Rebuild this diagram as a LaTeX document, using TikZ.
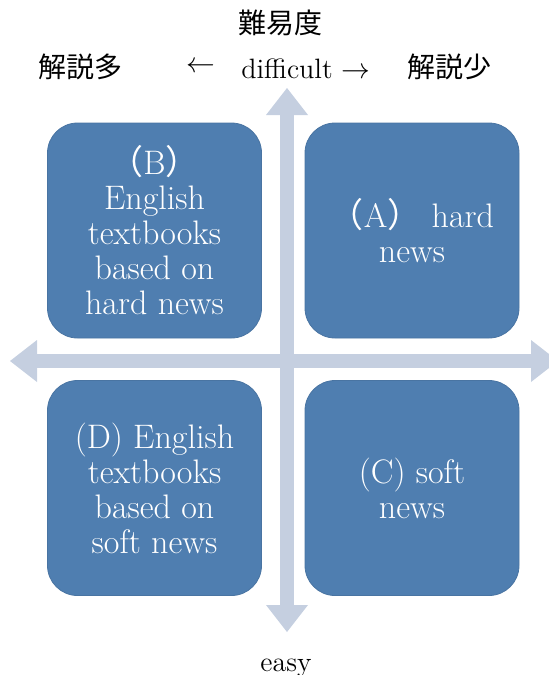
\documentclass[tikz,border=0pt]{standalone}
\usepackage{fontspec}
\newfontfamily\cjk{Noto Sans CJK JP}
\usepackage{tikz}
\usetikzlibrary{arrows.meta}

\definecolor{boxblue}{RGB}{79,126,176}
\definecolor{axisgray}{RGB}{197,207,224}

\begin{document}
\begin{tikzpicture}[x=0.5pt, y=-0.5pt,
        quad/.style={rectangle, rounded corners=15pt, fill=boxblue, draw=boxblue!92!black, line width=0.4pt, minimum width=107pt, minimum height=107.5pt, inner sep=0pt, text=white, align=center, font=\fontsize{17}{17.5}\selectfont},
        axis/.style={draw=axisgray, line width=7pt, {Triangle[width=21pt, length=13.5pt, line width=0pt]}-{Triangle[width=21pt, length=13.5pt, line width=0pt]}},
        axislabel/.style={inner sep=0pt, font=\fontsize{14}{16}\selectfont}
      ]
        \useasboundingbox (0,0) rectangle (548,675);

        \coordinate (up)    at (287, 88);
        \coordinate (down)  at (287, 632);
        \coordinate (left)  at (10, 361);
        \coordinate (right) at (558, 361);

        \draw[axis]  (down) -- (up);
        \draw[axis]  (left) -- (right);

        \node[quad]  (B)  at (154.5, 230.5)  {\cjk（\normalfont B\cjk）\\English\\textbooks\\based on\\hard news};
        \node[quad]  (A)  at (412, 230.5)    {\cjk（\normalfont A\cjk）\normalfont\ hard\\news};
        \node[quad]  (D)  at (154.5, 488)    {(D) English\\textbooks\\based on\\soft news};
        \node[quad]  (C)  at (412, 488)      {(C) soft\\news};

        \node[axislabel]              (level)  at (280, 23)   {\cjk 難易度};
        \node[axislabel]              (many)   at (81, 67)    {\cjk 解説多};
        \node[axislabel]              (larrow) at (201, 67)   {$\leftarrow$};
        \node[axislabel, anchor=base] (diff)   at (306, 78)   {difficult $\rightarrow$};
        \node[axislabel]              (few)    at (449, 67)   {\cjk 解説少};
        \node[axislabel, anchor=base] (easy)   at (286, 671)  {easy};
      \end{tikzpicture}
\end{document}
